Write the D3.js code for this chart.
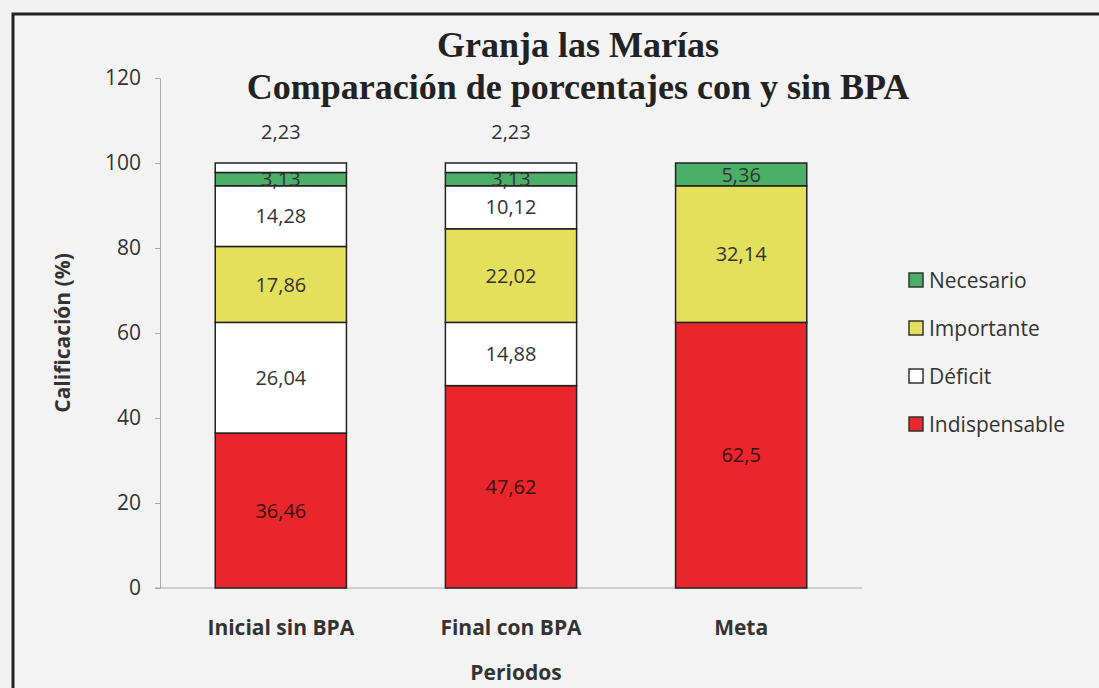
<!DOCTYPE html>
<html>
<head>
<meta charset="utf-8">
<script src="https://cdn.jsdelivr.net/npm/d3@7"></script>
<style>
  body { margin: 0; background: #f2f2f2; }
  svg { display: block; }
  .tick text { font-family: "Open Sans", sans-serif; font-size: 21px; fill: #333; }
</style>
</head>
<body>
<svg id="chart" width="1099" height="688"></svg>
<script>
// categories and series (stack order bottom to top)
var periodos = ["Inicial sin BPA", "Final con BPA", "Meta"];
var indispensable = [36.46, 47.62, 62.5];
var deficit1 = [26.04, 14.88, 0];
var importante = [17.86, 22.02, 32.14];
var deficit2 = [14.28, 10.12, 0];
var necesario = [3.13, 3.13, 5.36];
var deficit3 = [2.23, 2.23, 0];
var yTicks = [0, 20, 40, 60, 80, 100, 120];
var legendItems = ["Necesario", "Importante", "Déficit", "Indispensable"];

var seriesList = [
    { key: "Indispensable", values: indispensable, color: "#e8262c" },
    { key: "Déficit", values: deficit1, color: "#ffffff" },
    { key: "Importante", values: importante, color: "#e5e05c" },
    { key: "Déficit", values: deficit2, color: "#ffffff" },
    { key: "Necesario", values: necesario, color: "#4caf68" },
    { key: "Déficit", values: deficit3, color: "#ffffff" }
];
var legendColor = { "Necesario": "#4caf68", "Importante": "#e5e05c", "Déficit": "#ffffff", "Indispensable": "#e8262c" };

var svg = d3.select("#chart");

// outer frame
svg.append("rect")
    .attr("x", 13).attr("y", 14)
    .attr("width", 1110).attr("height", 700)
    .attr("fill", "#f3f3f3")
    .attr("stroke", "#222").attr("stroke-width", 3);

var margin = { left: 160, top: 78, right: 862, bottom: 588 };

var x = d3.scaleBand()
    .domain(periodos)
    .range([margin.left, margin.right])
    .paddingInner(0.43)
    .paddingOuter(0.24);

var y = d3.scaleLinear()
    .domain([0, 120])
    .range([margin.bottom, margin.top]);

//axes
var yAxis = svg.append("g")
    .attr("transform", "translate(" + margin.left + ",0)")
    .call(d3.axisLeft(y).tickValues(yTicks).tickSize(5).tickPadding(14));
yAxis.select(".domain").attr("stroke", "#aaa");
yAxis.selectAll(".tick line").attr("stroke", "#aaa");

var xAxis = svg.append("g")
    .attr("transform", "translate(0," + margin.bottom + ")")
    .call(d3.axisBottom(x).tickSize(0).tickPadding(32).tickSizeOuter(0));
xAxis.select(".domain").attr("stroke", "#aaa").attr("d", "M" + (margin.left - 5) + ",0H" + margin.right);
xAxis.selectAll(".tick text").style("font-weight", "bold").style("font-size", "21px");

//stacked bars
var rows = periodos.map(function(p, i) {
    var r = { periodo: p, idx: i };
    seriesList.forEach(function(s, j) { r["s" + j] = s.values[i]; });
    return r;
});
var stack = d3.stack().keys(seriesList.map(function(s, j) { return "s" + j; }));
var stacked = stack(rows);

stacked.forEach(function(layer, j) {
    var s = seriesList[j];
    var segs = layer.filter(function(d) { return d[1] - d[0] > 0; });
    var g = svg.append("g");
    g.selectAll("rect")
        .data(segs)
        .enter().append("rect")
        .attr("x", function(d) { return x(d.data.periodo); })
        .attr("width", x.bandwidth())
        .attr("y", function(d) { return y(d[1]); })
        .attr("height", function(d) { return y(d[0]) - y(d[1]); })
        .attr("fill", s.color)
        .attr("stroke", "#222")
        .attr("stroke-width", 1.5);

    g.selectAll("text")
        .data(segs)
        .enter().append("text")
        .attr("x", function(d) { return x(d.data.periodo) + x.bandwidth() / 2; })
        .attr("y", function(d) {
            // last white segment label sits above the bar
            if (j === 5) return y(d[1]) - 31;
            return (y(d[0]) + y(d[1])) / 2;
        })
        .attr("dy", ".36em")
        .attr("text-anchor", "middle")
        .style("font-family", "'Open Sans', sans-serif")
        .style("font-size", "20px")
        .attr("fill", s.color === "#e8262c" ? "#3a1010" : "#333")
        .text(function(d) { return String(s.values[d.data.idx]).replace(".", ","); });
});

//titles
svg.append("text")
    .attr("x", 578).attr("y", 57)
    .attr("text-anchor", "middle")
    .style("font-family", "'Liberation Serif', serif")
    .style("font-weight", "bold").style("font-size", "36px")
    .attr("fill", "#222")
    .text("Granja las Marías");
svg.append("text")
    .attr("x", 578).attr("y", 99)
    .attr("text-anchor", "middle")
    .style("font-family", "'Liberation Serif', serif")
    .style("font-weight", "bold").style("font-size", "36px")
    .attr("fill", "#222")
    .text("Comparación de porcentajes con y sin BPA");

svg.append("text")
    .attr("transform", "translate(70," + 333 + ") rotate(-90)")
    .attr("text-anchor", "middle")
    .style("font-family", "'Open Sans', sans-serif")
    .style("font-weight", "bold").style("font-size", "21px")
    .attr("fill", "#333")
    .text("Calificación (%)");

svg.append("text")
    .attr("x", 516).attr("y", 680)
    .attr("text-anchor", "middle")
    .style("font-family", "'Open Sans', sans-serif")
    .style("font-weight", "bold").style("font-size", "21px")
    .attr("fill", "#333")
    .text("Periodos");

//legend
var legend = svg.append("g")
    .selectAll("g")
    .data(legendItems)
    .enter().append("g")
    .attr("transform", function(d, i) { return "translate(909," + (280 + i * 48) + ")"; });
legend.append("rect")
    .attr("x", 0).attr("y", -7)
    .attr("width", 14).attr("height", 14)
    .attr("fill", function(d) { return legendColor[d]; })
    .attr("stroke", "#333").attr("stroke-width", 1.5);
legend.append("text")
    .attr("x", 20).attr("dy", ".36em")
    .style("font-family", "'Open Sans', sans-serif")
    .style("font-size", "21px")
    .attr("fill", "#333")
    .text(function(d) { return d; });
</script>
</body>
</html>
